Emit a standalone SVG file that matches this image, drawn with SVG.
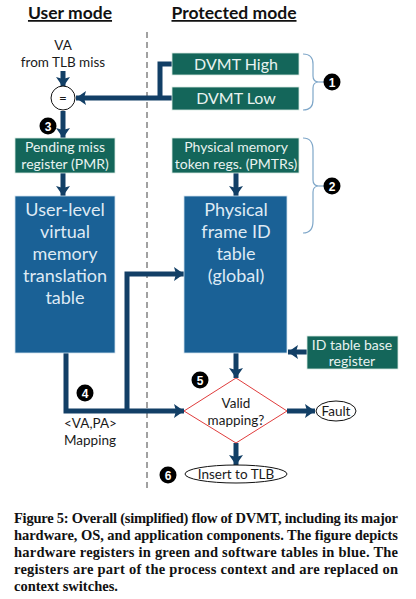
<svg xmlns="http://www.w3.org/2000/svg" width="416" height="599" viewBox="0 0 416 599">
<defs>
<marker id="ah" markerUnits="userSpaceOnUse" markerWidth="12" markerHeight="14" refX="10" refY="7" orient="auto">
<path d="M0,0 L10,7 L0,14 L2,7 Z" fill="#123f66"/>
</marker>
<style>
.t{font-family:Lato,"Open Sans","Liberation Sans",sans-serif;}
.title{font-weight:bold;font-size:17.5px;fill:#111;text-decoration:underline;}
.g{fill:#14665a;stroke:#d8e8e2;stroke-width:0.8;}
.b{fill:#1a6196;stroke:#d0e0ee;stroke-width:0.8;}
.wt{fill:#e8f2f0;font-size:16px;text-anchor:middle;}
.wb{fill:#dfeaf4;font-size:18px;text-anchor:middle;}
.k{fill:#1a1a1a;font-size:13.5px;text-anchor:middle;}
.c{fill:none;stroke:#123f66;stroke-width:5;}
.ca{fill:none;stroke:#123f66;stroke-width:5;marker-end:url(#ah);}
.br{fill:none;stroke:#7fa7c9;stroke-width:1.2;}
.badge circle{fill:#000;}
.badge text{fill:#fff;font-family:"Liberation Sans",sans-serif;font-weight:bold;font-size:12px;text-anchor:middle;}
.cap{font-family:"Liberation Serif","Times New Roman",serif;font-weight:bold;font-size:14.5px;fill:#111;}
</style>
</defs>
<rect width="416" height="599" fill="#fff"/>
<text class="t title" x="70" y="19" text-anchor="middle">User mode</text>
<text class="t title" x="234" y="19" text-anchor="middle">Protected mode</text>
<line x1="147" y1="32" x2="147" y2="490" stroke="#444" stroke-width="1" stroke-dasharray="6,4"/>

<g id="connectors">
<path class="ca" d="M63 71 V87"/>
<path class="c" d="M172 64 H160 V98"/>
<path class="ca" d="M172 98 H76"/>
<path class="ca" d="M63 111 V138"/>
<path class="ca" d="M63 173 V196"/>
<path class="ca" d="M236 173 V196"/>
<path class="c" d="M66 353 V411 H127"/>
<path class="ca" d="M127 411 H184"/>
<path class="ca" d="M127 411 V274 H184"/>
<path class="ca" d="M307 352 H288"/>
<path class="ca" d="M236 353 V378"/>
<path class="ca" d="M287 411 H315"/>
<path class="ca" d="M236 443 V465"/>
</g>

<g id="va-label">
<text class="t k" x="63" y="50">VA</text>
<text class="t k" x="63" y="67">from TLB miss</text>
</g>
<g id="compare">
<circle cx="63" cy="98" r="12" fill="#fff" stroke="#111" stroke-width="1"/>
<text class="t k" x="63" y="103">=</text>
</g>
<g id="dvmt-high">
<rect class="g" x="172" y="53" width="127" height="22"/>
<text class="t wt" x="236" y="70">DVMT High</text>
</g>
<g id="dvmt-low">
<rect class="g" x="172" y="87" width="127" height="23"/>
<text class="t wt" x="236" y="104">DVMT Low</text>
</g>
<g id="pmr">
<rect class="g" x="15" y="138" width="100" height="35"/>
<text class="t wt" x="65" y="152" style="font-size:14px">Pending miss</text>
<text class="t wt" x="65" y="169" style="font-size:14px">register (PMR)</text>
</g>
<g id="pmtrs">
<rect class="g" x="172" y="138" width="127" height="35"/>
<text class="t wt" x="236" y="152" style="font-size:14px">Physical memory</text>
<text class="t wt" x="236" y="169" style="font-size:14px">token regs. (PMTRs)</text>
</g>
<g id="user-table">
<rect class="b" x="15" y="196" width="100" height="157"/>
<text class="t wb" x="65" y="216">User-level</text>
<text class="t wb" x="65" y="238">virtual</text>
<text class="t wb" x="65" y="260">memory</text>
<text class="t wb" x="65" y="282">translation</text>
<text class="t wb" x="65" y="304">table</text>
</g>
<g id="frame-table">
<rect class="b" x="184" y="196" width="103" height="157"/>
<text class="t wb" x="236" y="216">Physical</text>
<text class="t wb" x="236" y="238">frame ID</text>
<text class="t wb" x="236" y="260">table</text>
<text class="t wb" x="236" y="282">(global)</text>
</g>
<g id="id-base">
<rect class="g" x="307" y="336" width="91" height="33"/>
<text class="t wt" x="352" y="350" style="font-size:14px">ID table base</text>
<text class="t wt" x="352" y="366" style="font-size:14px">register</text>
</g>
<g id="valid">
<polygon points="236,378 287,411 236,443 184,411" fill="#fff" stroke="#e03c3c" stroke-width="1"/>
<text class="t k" x="236" y="408">Valid</text>
<text class="t k" x="236" y="425">mapping?</text>
</g>
<g id="fault">
<ellipse cx="336" cy="411" rx="20" ry="10" fill="#fff" stroke="#111" stroke-width="1"/>
<text class="t k" x="336" y="416">Fault</text>
</g>
<g id="insert">
<ellipse cx="236" cy="474" rx="51" ry="9" fill="#fff" stroke="#111" stroke-width="1"/>
<text class="t k" x="236" y="479">Insert to TLB</text>
</g>
<g id="mapping-label">
<text class="t k" x="64" y="428" style="text-anchor:start">&lt;VA,PA&gt;</text>
<text class="t k" x="64" y="445" style="text-anchor:start">Mapping</text>
</g>
<g id="braces">
<path class="br" d="M303 54 Q313 54 313 64 V76 Q313 82 319 82 Q313 82 313 88 V100 Q313 110 303 110"/>
<line class="br" x1="319" y1="82" x2="324" y2="82"/>
<path class="br" d="M303 138 Q313 138 313 150 V180 Q313 186 319 186 Q313 186 313 192 V221 Q313 233 303 233"/>
<line class="br" x1="319" y1="186" x2="324" y2="186"/>
</g>
<g id="badge1" class="badge"><circle cx="332" cy="82" r="8.5"/><text x="332" y="86.5">1</text></g>
<g id="badge2" class="badge"><circle cx="332" cy="186" r="8.5"/><text x="332" y="190.5">2</text></g>
<g id="badge3" class="badge"><circle cx="48" cy="126" r="8.5"/><text x="48" y="130.5">3</text></g>
<g id="badge4" class="badge"><circle cx="85" cy="393" r="8.5"/><text x="85" y="397.5">4</text></g>
<g id="badge5" class="badge"><circle cx="200" cy="380" r="8.5"/><text x="200" y="384.5">5</text></g>
<g id="badge6" class="badge"><circle cx="168" cy="475" r="8.5"/><text x="168" y="479.5">6</text></g>

<g id="caption">
<text class="cap" x="14" y="523" textLength="384" lengthAdjust="spacing">Figure 5: Overall (simplified) flow of DVMT, including its major</text>
<text class="cap" x="14" y="540" textLength="384" lengthAdjust="spacing">hardware, OS, and application components. The figure depicts</text>
<text class="cap" x="14" y="557" textLength="384" lengthAdjust="spacing">hardware registers in green and software tables in blue. The</text>
<text class="cap" x="14" y="574" textLength="384" lengthAdjust="spacing">registers are part of the process context and are replaced on</text>
<text class="cap" x="14" y="591">context switches.</text>
</g>
</svg>
